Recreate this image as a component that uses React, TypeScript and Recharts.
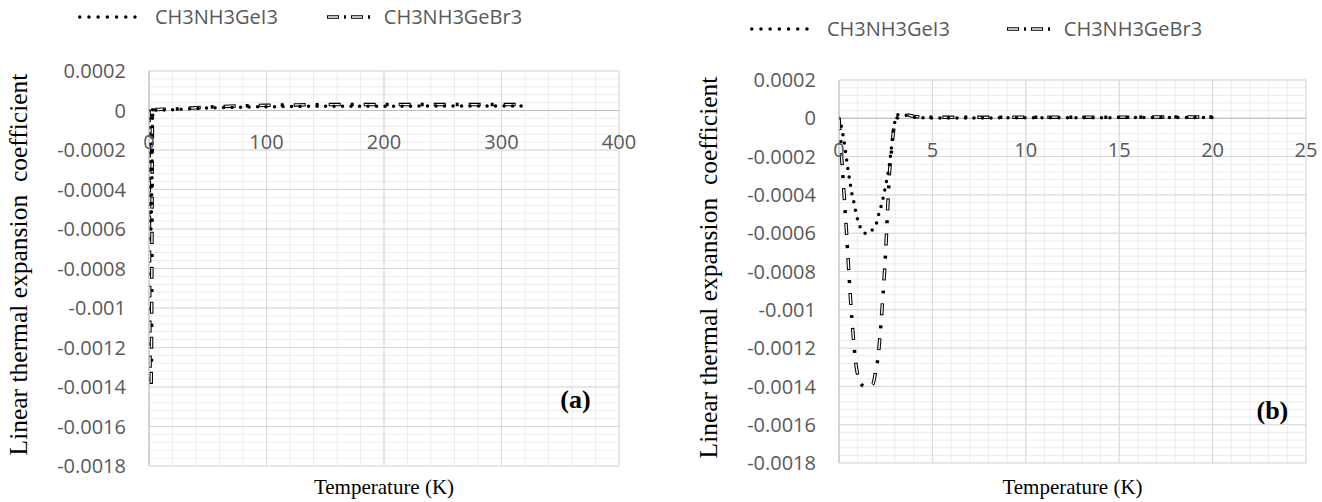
import React from "react";
import {
  LineChart,
  Line,
  XAxis,
  YAxis,
  CartesianGrid,
  ReferenceLine,
  ReferenceDot,
  Legend,
  Label,
} from "recharts";

// temperature (K) and linear thermal expansion coefficient
const temperature = [
  0, 0.1, 0.2, 0.3, 0.4, 0.5, 0.6, 0.7, 0.8, 0.9, 1.0,
  1.2, 1.4, 1.6, 1.8, 2.0,
  2.1, 2.2, 2.3, 2.4, 2.5, 2.6, 2.7, 2.8, 2.9, 3.0,
  3.2, 3.4, 3.6, 3.8, 4,
  5, 6, 7, 8, 9, 10, 11, 12, 13, 14, 15, 16, 17, 18, 19, 20,
  30, 40, 60, 80, 100, 120, 140, 160, 180, 200, 220, 240, 260, 280, 300, 320,
];

const geI3 = [
  0, -0.00003, -0.00008, -0.00014, -0.00021, -0.00028, -0.00034, -0.0004, -0.00044, -0.00049, -0.00053,
  -0.00058, -0.0006, -0.0006, -0.00058, -0.00055,
  -0.00051, -0.00048, -0.00044, -0.0004, -0.00035, -0.0003, -0.00024, -0.00016, -0.00007, -0.000015,
  0.00002, 0.00002, 0.000016, 0.00001, 0.000006,
  0.000002, 0.000002, 0.000002, 0.000002, 0.000003, 0.000003, 0.000003, 0.000003, 0.000003, 0.000003,
  0.000004, 0.000004, 0.000004, 0.000004, 0.000004, 0.000004,
  0.000007, 0.00001, 0.000014, 0.000017, 0.000019, 0.00002, 0.000021, 0.000021, 0.000022, 0.000022,
  0.000022, 0.000023, 0.000023, 0.000023, 0.000023, 0.000023,
];

const geBr3 = [
  0, -0.00014, -0.00029, -0.00044, -0.00059, -0.00076, -0.00092, -0.00106, -0.00118, -0.00128, -0.00134,
  -0.00139, -0.0014, -0.0014, -0.00139, -0.0013,
  -0.00124, -0.00113, -0.001, -0.00086, -0.00069, -0.00048, -0.00029, -0.00018, -0.00008, -0.00002,
  0.00001, 0.00002, 0.00002, 0.000015, 0.00001,
  0.000005, 0.000005, 0.000005, 0.000005, 0.000005, 0.000006, 0.000006, 0.000006, 0.000006, 0.000006,
  0.000006, 0.000006, 0.000007, 0.000007, 0.000007, 0.000007,
  0.00001, 0.000014, 0.00002, 0.000024, 0.000026, 0.000028, 0.000029, 0.00003, 0.00003, 0.00003,
  0.00003, 0.00003, 0.00003, 0.00003, 0.00003, 0.00003,
];

const yTicks = [0.0002, 0, -0.0002, -0.0004, -0.0006, -0.0008, -0.001, -0.0012, -0.0014, -0.0016, -0.0018];
const xTicksA = [0, 100, 200, 300, 400];
const xTicksB = [0, 5, 10, 15, 20, 25];
const seriesNames = ["CH3NH3GeI3", "CH3NH3GeBr3"];

const Y_MIN = -0.0018;
const Y_MAX = 0.0002;

const rows = temperature.map((t, k) => ({ t, gei3: geI3[k], gebr3: geBr3[k] }));

const steps = (from: number, to: number, step: number) => {
  const out: number[] = [];
  const n = Math.round((to - from) / step);
  for (let k = 0; k <= n; k++) out.push(Number((from + k * step).toPrecision(10)));
  return out;
};
const yMinor = steps(Y_MIN, Y_MAX, 0.00004);

const tickFont = "'Open Sans', sans-serif";
const serif = "'Liberation Serif', 'Times New Roman', serif";
const tickColor = "#595959";

const fmt = (v: number) => {
  const s = String(Number(v.toFixed(4)));
  return s === "-0" ? "0" : s;
};

function LegendRow({ gap }: { gap: number }) {
  return (
    <div
      style={{
        display: "flex",
        alignItems: "center",
        fontFamily: tickFont,
        fontSize: 20,
        color: tickColor,
        whiteSpace: "nowrap",
      }}
    >
      <svg width={66} height={10}>
        <line x1={1.75} y1={5} x2={66} y2={5} stroke="#000" strokeWidth={3.5} strokeDasharray="0 9.2" strokeLinecap="round" />
      </svg>
      <span style={{ marginLeft: 11 }}>{seriesNames[0]}</span>
      <svg width={46} height={10} style={{ marginLeft: gap }}>
        <line x1={0} y1={5} x2={46} y2={5} stroke="#000" strokeWidth={3.5} strokeDasharray="12 5 2 5" />
        <line x1={0} y1={5} x2={46} y2={5} stroke="#fff" strokeWidth={1.4} strokeDasharray="0 1 10 13" />
      </svg>
      <span style={{ marginLeft: 11 }}>{seriesNames[1]}</span>
    </div>
  );
}

interface PanelProps {
  width: number;
  height: number;
  margin: { top: number; right: number; bottom: number; left: number };
  xAxisH: number;
  xMax: number;
  xTicks: number[];
  xMinorStep: number;
  data: typeof rows;
  tag: string;
  tagAt: [number, number];
  legendPos: { left: number; top: number; gap: number };
}

function Panel({ width, height, margin, xAxisH, xMax, xTicks, xMinorStep, data, tag, tagAt, legendPos }: PanelProps) {
  const plotH = height - margin.top - margin.bottom - xAxisH;
  const zeroY = margin.top + (plotH * Y_MAX) / (Y_MAX - Y_MIN);
  const xMinor = steps(0, xMax, xMinorStep);

  const renderXTick = (props: any) => (
    <text
      key={`xt-${props.payload.value}`}
      x={props.x}
      y={zeroY + 31}
      textAnchor="middle"
      dominantBaseline="central"
      fill={tickColor}
      fontSize={20}
      fontFamily={tickFont}
    >
      {props.payload.value}
    </text>
  );

  const renderYTitle = (props: any) => {
    const vb = props.viewBox;
    const cx = vb.x - 61;
    const cy = vb.y + vb.height / 2 - 4;
    return (
      <text
        x={cx}
        y={cy}
        transform={`rotate(-90 ${cx} ${cy})`}
        textAnchor="middle"
        dominantBaseline="central"
        fontFamily={serif}
        fontSize={25.5}
        fill="#000"
        style={{ whiteSpace: "pre" }}
      >
        {"Linear thermal expansion  coefficient"}
      </text>
    );
  };

  const renderXTitle = (p: any) => (
    <text
      x={p.viewBox.x + p.viewBox.width / 2}
      y={height - 15}
      textAnchor="middle"
      dominantBaseline="central"
      fontFamily={serif}
      fontSize={21}
      fill="#000"
    >
      Temperature (K)
    </text>
  );

  return (
    <LineChart width={width} height={height} data={data} margin={margin}>
      <CartesianGrid stroke="#ececec" strokeWidth={1} horizontalValues={yMinor} verticalValues={xMinor} />
      <CartesianGrid stroke="#d9d9d9" strokeWidth={1} horizontalValues={yTicks} verticalValues={xTicks} />
      <XAxis
        dataKey="t"
        type="number"
        domain={[0, xMax]}
        ticks={xTicks}
        height={xAxisH}
        axisLine={false}
        tickLine={false}
        tick={renderXTick}
        interval={0}
        allowDataOverflow
      >
        <Label content={renderXTitle} />
      </XAxis>
      <YAxis
        type="number"
        domain={[Y_MIN, Y_MAX]}
        ticks={yTicks}
        interval={0}
        width={70}
        tickSize={0}
        tickMargin={23}
        tickLine={false}
        axisLine={{ stroke: "#bfbfbf" }}
        tickFormatter={fmt}
        tick={{ fill: tickColor, fontSize: 20, fontFamily: tickFont }}
        allowDataOverflow
      >
        <Label content={renderYTitle} />
      </YAxis>
      <ReferenceLine y={0} stroke="#bfbfbf" strokeWidth={1.2} />
      <Legend
        layout="horizontal"
        verticalAlign="middle"
        align="center"
        wrapperStyle={{ left: legendPos.left, top: legendPos.top, width: "auto" }}
        content={() => <LegendRow gap={legendPos.gap} />}
      />
      <Line
        type="monotone"
        dataKey="gebr3"
        name={seriesNames[1]}
        stroke="#000"
        strokeWidth={3.5}
        strokeDasharray="12 10 3 10"
        dot={false}
        activeDot={false}
        isAnimationActive={false}
      />
      <Line
        type="monotone"
        dataKey={(d: any) => d.gebr3}
        stroke="#fff"
        strokeWidth={1.4}
        strokeDasharray="0 1 10 24"
        dot={false}
        activeDot={false}
        legendType="none"
        isAnimationActive={false}
      />
      <Line
        type="monotone"
        dataKey="gei3"
        name={seriesNames[0]}
        stroke="#000"
        strokeWidth={3.5}
        strokeDasharray="0 8.5"
        strokeLinecap="round"
        dot={false}
        activeDot={false}
        isAnimationActive={false}
      />
      <ReferenceDot
        x={tagAt[0]}
        y={tagAt[1]}
        r={0}
        stroke="none"
        label={{ value: tag, position: "center", fontFamily: serif, fontSize: 26, fontWeight: 700, fill: "#000" }}
      />
    </LineChart>
  );
}

export default function App() {
  const lowRows = rows.filter((r) => r.t <= 20);
  return (
    <div style={{ position: "absolute", left: 0, top: 0, width: 1322, height: 502, background: "#fff" }}>
      <div style={{ position: "absolute", left: 0, top: 0 }}>
        <Panel
          width={660}
          height={502}
          margin={{ top: 71, right: 41, bottom: 0, left: 79 }}
          xAxisH={36}
          xMax={400}
          xTicks={xTicksA}
          xMinorStep={20}
          data={rows}
          tag="(a)"
          tagAt={[363, -0.00146]}
          legendPos={{ left: 78, top: 3, gap: 49 }}
        />
      </div>
      <div style={{ position: "absolute", left: 690, top: 0 }}>
        <Panel
          width={632}
          height={502}
          margin={{ top: 80, right: 16, bottom: 0, left: 79 }}
          xAxisH={39}
          xMax={25}
          xTicks={xTicksB}
          xMinorStep={1}
          data={lowRows}
          tag="(b)"
          tagAt={[23.2, -0.00152]}
          legendPos={{ left: 60, top: 15, gap: 57 }}
        />
      </div>
    </div>
  );
}
